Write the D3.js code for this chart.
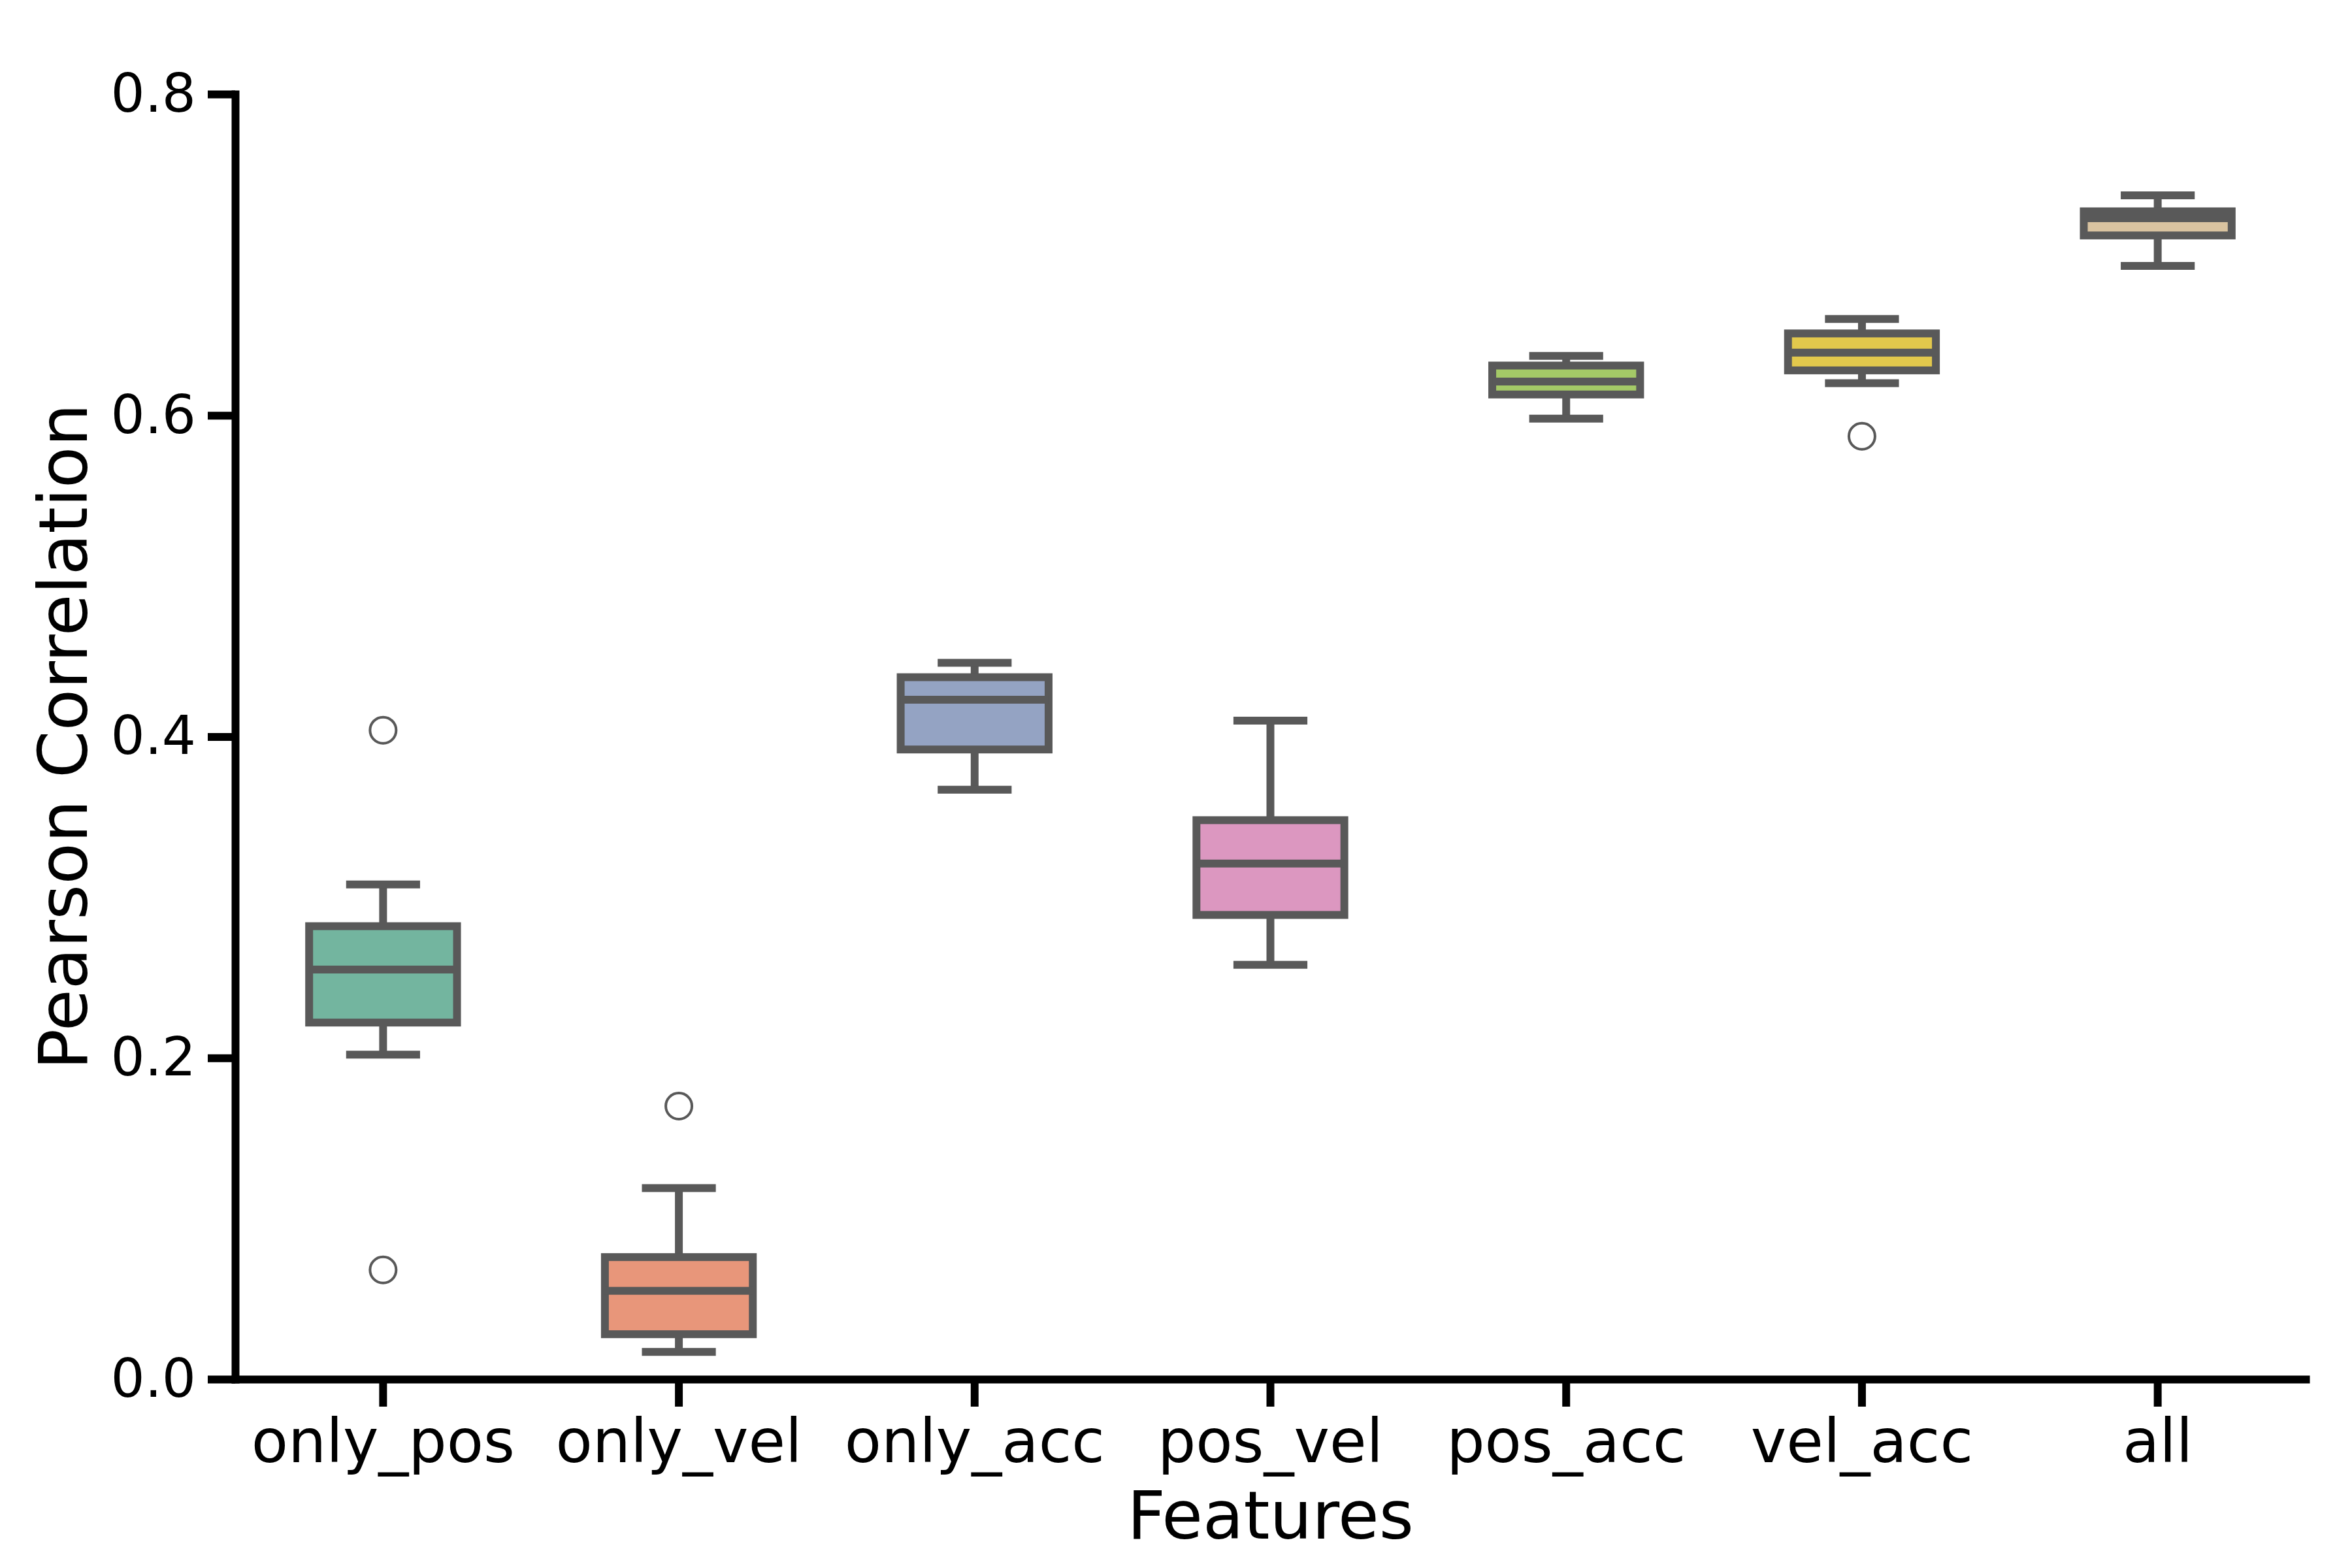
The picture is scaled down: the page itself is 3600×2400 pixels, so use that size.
<!DOCTYPE html>
<html>
<head>
<meta charset="utf-8">
<script src="https://cdn.jsdelivr.net/npm/d3@7"></script>
<style>
  html, body { margin: 0; padding: 0; background: #fff; }
  svg { display: block; font-family: "DejaVu Sans", sans-serif; }
</style>
</head>
<body>
<svg id="chart" width="3600" height="2400"></svg>
<script>
// ---- data ----
const categories = ["only_pos", "only_vel", "only_acc", "pos_vel", "pos_acc", "vel_acc", "all"];
const whiskerLow  = [0.202, 0.017, 0.367, 0.258, 0.598, 0.620, 0.693];
const q1          = [0.222, 0.028, 0.392, 0.289, 0.613, 0.628, 0.712];
const medians     = [0.255, 0.055, 0.423, 0.321, 0.621, 0.639, 0.7227];
const q3          = [0.282, 0.076, 0.437, 0.348, 0.631, 0.651, 0.727];
const whiskerHigh = [0.308, 0.119, 0.446, 0.410, 0.637, 0.660, 0.737];
const outliers    = [[0.404, 0.068], [0.170], [], [], [], [0.587], []];
const fillColors  = ["#73b59f", "#e8967a", "#94a3c3", "#dc97c0", "#a4c967", "#e2c84c", "#d9c3a0"];
const yTicks      = [0.0, 0.2, 0.4, 0.6, 0.8];
const xLabel = "Features";
const yLabel = "Pearson Correlation";

// ---- layout ----
const svg = d3.select("#chart");
const plotLeft = 360, plotRight = 3529, plotTop = 144, plotBottom = 2111;
const gray = "#595959";
const lw = 12;

const x = d3.scaleBand().domain(categories).range([plotLeft, plotRight]).padding(0);
const y = d3.scaleLinear().domain([0, 0.8]).range([plotBottom, plotTop]);

const rows = categories.map((c, i) => ({
  c, wl: whiskerLow[i], q1: q1[i], med: medians[i], q3: q3[i], wh: whiskerHigh[i],
  out: outliers[i], fill: fillColors[i]
}));

const boxW = x.bandwidth() * 0.5;
const capW = boxW * 0.5;

const g = svg.append("g");
const box = g.selectAll("g.box").data(rows).join("g").attr("class", "box")
  .attr("transform", d => `translate(${x(d.c) + x.bandwidth() / 2},0)`);

// whiskers
box.append("line").attr("x1", 0).attr("x2", 0)
  .attr("y1", d => y(d.q3)).attr("y2", d => y(d.wh))
  .attr("stroke", gray).attr("stroke-width", lw);
box.append("line").attr("x1", 0).attr("x2", 0)
  .attr("y1", d => y(d.q1)).attr("y2", d => y(d.wl))
  .attr("stroke", gray).attr("stroke-width", lw);
// caps
box.append("line").attr("x1", -capW / 2).attr("x2", capW / 2)
  .attr("y1", d => y(d.wh)).attr("y2", d => y(d.wh))
  .attr("stroke", gray).attr("stroke-width", lw);
box.append("line").attr("x1", -capW / 2).attr("x2", capW / 2)
  .attr("y1", d => y(d.wl)).attr("y2", d => y(d.wl))
  .attr("stroke", gray).attr("stroke-width", lw);
// box
box.append("rect").attr("x", -boxW / 2).attr("width", boxW)
  .attr("y", d => y(d.q3)).attr("height", d => y(d.q1) - y(d.q3))
  .attr("fill", d => d.fill).attr("stroke", gray).attr("stroke-width", lw);
// median
box.append("line").attr("x1", -boxW / 2).attr("x2", boxW / 2)
  .attr("y1", d => y(d.med)).attr("y2", d => y(d.med))
  .attr("stroke", gray).attr("stroke-width", lw);
// outliers
box.selectAll("circle").data(d => d.out).join("circle")
  .attr("cx", 0).attr("cy", v => y(v)).attr("r", 20)
  .attr("fill", "none").attr("stroke", gray).attr("stroke-width", 4);

// ---- axes ----
const yAxis = d3.axisLeft(y).tickValues(yTicks).tickFormat(d3.format(".1f"))
  .tickSize(42).tickSizeOuter(0).tickPadding(18);
const ya = svg.append("g").attr("transform", `translate(${plotLeft},0)`).call(yAxis);
ya.select(".domain").attr("stroke", "#000").attr("stroke-width", lw).attr("stroke-linecap", "square");
ya.selectAll(".tick line").attr("stroke", "#000").attr("stroke-width", lw);
ya.selectAll(".tick text").attr("font-size", 82).attr("fill", "#000")
  .attr("font-family", "DejaVu Sans");

const xAxis = d3.axisBottom(x).tickSize(42).tickSizeOuter(0).tickPadding(20);
const xa = svg.append("g").attr("transform", `translate(0,${plotBottom})`).call(xAxis);
xa.select(".domain").attr("stroke", "#000").attr("stroke-width", lw).attr("stroke-linecap", "square");
xa.selectAll(".tick line").attr("stroke", "#000").attr("stroke-width", lw);
xa.selectAll(".tick text").attr("font-size", 92).attr("fill", "#000")
  .attr("font-family", "DejaVu Sans");

// axis labels
svg.append("text").attr("x", (plotLeft + plotRight) / 2).attr("y", 2355)
  .attr("text-anchor", "middle").attr("font-size", 102).attr("fill", "#000")
  .attr("font-family", "DejaVu Sans")
  .text(xLabel);
svg.append("text").attr("transform", `translate(133,${(plotTop + plotBottom) / 2}) rotate(-90)`)
  .attr("text-anchor", "middle").attr("font-size", 104).attr("fill", "#000")
  .attr("font-family", "DejaVu Sans")
  .text(yLabel);
</script>
</body>
</html>
